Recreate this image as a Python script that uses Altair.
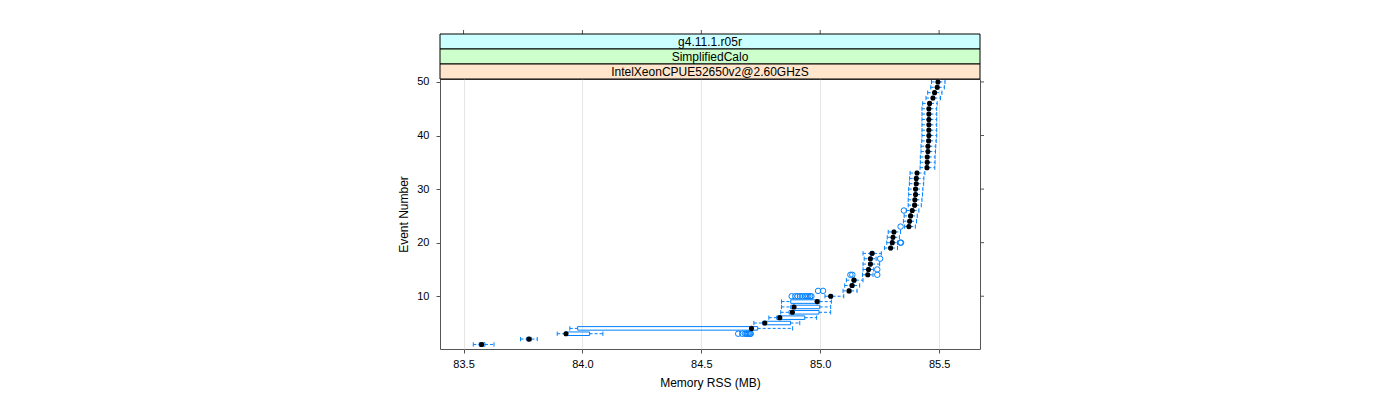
import altair as alt
import pandas as pd

# ---------------- data ----------------
events = list(range(1, 51))

lo = [83.541, 83.740, 83.894, 83.947, 84.721, 84.784, 84.834, 84.837, 84.837, 85.020,
      85.096, 85.103, 85.110, 85.178, 85.180, 85.180, 85.185, 85.180, 85.270, 85.280,
      85.282, 85.286, 85.355, 85.350, 85.353, 85.362, 85.370, 85.370, 85.372, 85.372,
      85.375, 85.376, 85.378, 85.420, 85.421, 85.421, 85.424, 85.424, 85.427, 85.428,
      85.428, 85.428, 85.428, 85.428, 85.428, 85.431, 85.445, 85.452, 85.465, 85.468]
q1 = [83.566, 83.766, 83.925, 83.980, 84.758, 84.817, 84.869, 84.876, 84.876, 85.038,
      85.115, 85.126, 85.135, 85.194, 85.197, 85.204, 85.205, 85.211, 85.290, 85.297,
      85.300, 85.304, 85.367, 85.370, 85.374, 85.381, 85.391, 85.392, 85.395, 85.395,
      85.398, 85.398, 85.401, 85.443, 85.444, 85.444, 85.447, 85.447, 85.450, 85.451,
      85.451, 85.451, 85.451, 85.451, 85.451, 85.454, 85.468, 85.475, 85.486, 85.489]
med = [83.576, 83.775, 83.931, 84.711, 84.767, 84.830, 84.883, 84.890, 84.987, 85.044,
       85.121, 85.134, 85.142, 85.200, 85.203, 85.211, 85.211, 85.218, 85.296, 85.303,
       85.306, 85.310, 85.373, 85.376, 85.380, 85.387, 85.397, 85.398, 85.401, 85.401,
       85.404, 85.404, 85.407, 85.449, 85.450, 85.450, 85.453, 85.453, 85.456, 85.457,
       85.457, 85.457, 85.457, 85.457, 85.457, 85.460, 85.474, 85.481, 85.492, 85.495]
q3 = [83.590, 83.786, 84.030, 84.737, 84.875, 84.935, 84.995, 84.998, 84.998, 85.052,
      85.130, 85.142, 85.150, 85.207, 85.210, 85.218, 85.218, 85.226, 85.302, 85.309,
      85.312, 85.316, 85.379, 85.382, 85.386, 85.393, 85.403, 85.404, 85.407, 85.407,
      85.410, 85.410, 85.413, 85.455, 85.456, 85.456, 85.459, 85.459, 85.462, 85.463,
      85.463, 85.463, 85.463, 85.463, 85.463, 85.466, 85.480, 85.487, 85.498, 85.501]
hi = [83.628, 83.810, 84.086, 84.884, 84.914, 84.985, 85.044, 85.044, 85.047, 85.099,
      85.155, 85.166, 85.180, 85.222, 85.225, 85.250, 85.235, 85.257, 85.325, 85.325,
      85.333, 85.338, 85.400, 85.405, 85.408, 85.415, 85.425, 85.428, 85.430, 85.432,
      85.435, 85.436, 85.440, 85.482, 85.483, 85.483, 85.485, 85.486, 85.488, 85.490,
      85.490, 85.490, 85.490, 85.490, 85.490, 85.492, 85.506, 85.512, 85.522, 85.525]

out_event = [3, 3, 3, 3, 3, 3, 3, 3,
             10, 10, 10, 10, 10, 10, 10, 10, 10, 10,
             11, 11, 14, 14, 14, 15, 17, 20, 20, 23, 26]
out_value = [84.655, 84.672, 84.684, 84.690, 84.695, 84.700, 84.705, 84.708,
             84.880, 84.895, 84.905, 84.915, 84.925, 84.935, 84.942, 84.950, 84.958, 84.963,
             84.991, 85.012, 85.127, 85.135, 85.240, 85.240, 85.252, 85.337, 85.340, 85.338, 85.352]

x_ticks = [83.5, 84.0, 84.5, 85.0, 85.5]
y_ticks = [10, 20, 30, 40, 50]
strip_labels = ["g4.11.1.r05r", "SimplifiedCalo", "IntelXeonCPUE52650v2@2.60GHzS"]
strip_colors = ["#CCFFFF", "#CCFFCC", "#FFE5CC"]

# ---------------- chart ----------------
FONT = "Liberation Sans"
BLUE = "#0080ff"
FRAME = "#555555"
W, H = 540, 270
STRIP_H = 15
XT = "Memory RSS (MB)"
YT = "Event Number"

df = pd.DataFrame({"event": events, "lo": lo, "q1": q1, "med": med, "q3": q3, "hi": hi})
od = pd.DataFrame({"event": out_event, "value": out_value})

xs = alt.Scale(domain=[83.401, 85.672], nice=False, zero=False)
ys = alt.Scale(domain=[0.15, 50.55], nice=False, zero=False)

xaxis = alt.Axis(values=x_ticks, format=".1f", tickSize=4, labelPadding=5, grid=True,
                 gridColor="#e6e6e6", domain=False, titlePadding=8)
yaxis = alt.Axis(values=y_ticks, tickSize=4, labelPadding=7, grid=False, domain=False,
                 titlePadding=6)

base = alt.Chart(df)

def X(f):
    return alt.X(f, scale=xs, axis=xaxis, title=XT)

def Y(f):
    return alt.Y(f, scale=ys, axis=yaxis, title=YT)

whisk_lo = base.mark_rule(color=BLUE, strokeDash=[3, 2], strokeWidth=1).encode(
    x=X("lo:Q"), x2="q1:Q", y=Y("event:Q"))
whisk_hi = base.mark_rule(color=BLUE, strokeDash=[3, 2], strokeWidth=1).encode(
    x=X("q3:Q"), x2="hi:Q", y=Y("event:Q"))

cap_lo = base.transform_calculate(ya="datum.event - 0.4", yb="datum.event + 0.4").mark_rule(
    color=BLUE, strokeWidth=1).encode(x=X("lo:Q"), y=Y("ya:Q"), y2="yb:Q")
cap_hi = base.transform_calculate(ya="datum.event - 0.4", yb="datum.event + 0.4").mark_rule(
    color=BLUE, strokeWidth=1).encode(x=X("hi:Q"), y=Y("ya:Q"), y2="yb:Q")

box = base.transform_calculate(ya="datum.event - 0.33", yb="datum.event + 0.33").mark_rect(
    fillOpacity=0, stroke=BLUE, strokeWidth=1).encode(
    x=X("q1:Q"), x2="q3:Q", y=Y("ya:Q"), y2="yb:Q")

outl = alt.Chart(od).mark_point(shape="circle", filled=False, color=BLUE, size=30,
                                strokeWidth=1, opacity=1).encode(
    x=X("value:Q"), y=Y("event:Q"))

medians = base.mark_circle(color="black", size=26, opacity=1).encode(
    x=X("med:Q"), y=Y("event:Q"))

# ticks on top (above strips) and right (no labels), as lattice does
top_ticks = alt.Chart(pd.DataFrame({"v": x_ticks})).mark_rule(color=FRAME).encode(
    x=X("v:Q"), y=alt.value(-3 * STRIP_H), y2=alt.value(-3 * STRIP_H - 4))
right_ticks = alt.Chart(pd.DataFrame({"v": y_ticks})).mark_rule(color=FRAME).encode(
    y=Y("v:Q"), x=alt.value(W), x2=alt.value(W + 4))

strips = []
for i, (lab, col) in enumerate(zip(strip_labels, strip_colors)):
    y0 = -3 * STRIP_H + i * STRIP_H
    sd = pd.DataFrame({"t": [lab]})
    strips.append(alt.Chart(sd).mark_rect(fill=col, stroke="black", strokeWidth=1).encode(
        x=alt.value(0), x2=alt.value(W), y=alt.value(y0), y2=alt.value(y0 + STRIP_H)))
    strips.append(alt.Chart(sd).mark_text(font=FONT, fontSize=12, color="black",
                                          baseline="middle", align="center").encode(
        x=alt.value(W / 2), y=alt.value(y0 + STRIP_H / 2 + 0.5), text="t:N"))

chart = alt.layer(
    whisk_lo, whisk_hi, cap_lo, cap_hi, box, outl, medians, top_ticks, right_ticks, *strips
).properties(
    width=W, height=H,
    autosize=alt.AutoSizeParams(type="none"),
    padding={"left": 432, "top": 71, "right": 20, "bottom": 45},
).configure_view(
    stroke=FRAME, strokeWidth=1
).configure_axis(
    labelFont=FONT, labelFontSize=11, labelColor="black",
    titleFont=FONT, titleFontSize=12, titleFontWeight="normal", titleColor="black",
    tickColor=FRAME,
)

chart.save("out.html", embed_options={"renderer": "svg", "actions": False})
